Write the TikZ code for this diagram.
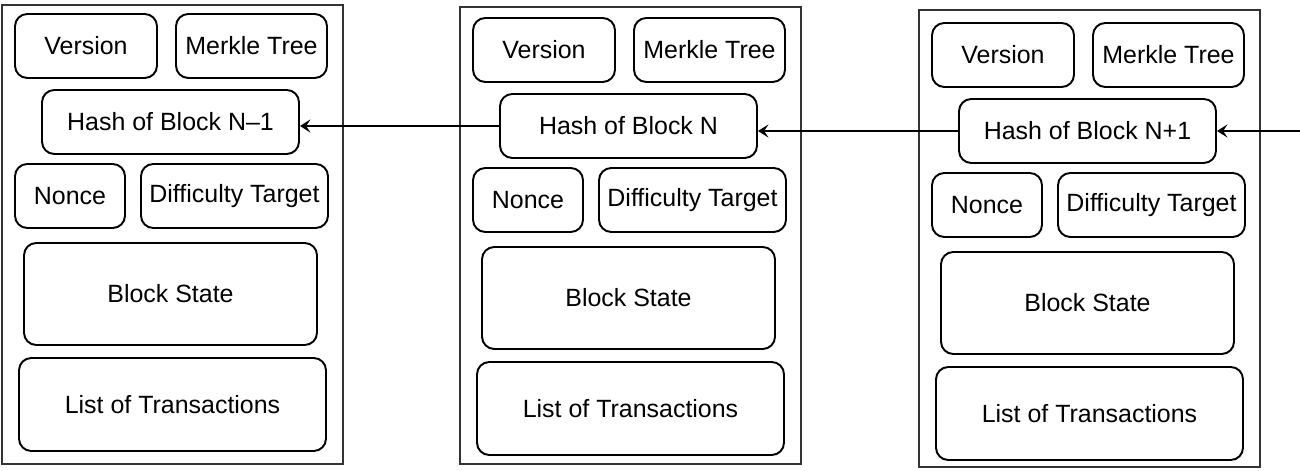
\documentclass[tikz,border=0pt]{standalone}
\usepackage{fontspec}
\setmainfont{Liberation Sans}
\usetikzlibrary{arrows.meta}

\begin{document}
\begin{tikzpicture}[
        font=\fontsize{14.2}{17}\selectfont,
        field/.style={draw, line width=1.1pt, rounded corners=7pt,
                      align=center, inner sep=0pt},
        frame/.style={draw=black!80, line width=0.8pt},
        link/.style={line width=1pt,
                     -{Stealth[length=6pt, width=7.5pt, inset=2.5pt]}}
    ]
\useasboundingbox (0,0) rectangle (26,-9.42);

% one block per step: index / x shift / y shift / frame top / frame bottom / label
\foreach \i/\dx/\dy/\top/\bot/\lab in {1/0/0/-0.10/-9.28/{N–1},
                                       2/9.16/-0.08/-0.14/-9.28/N,
                                       3/18.34/-0.18/-0.20/-9.34/{N+1}} {
    \draw[frame] (\dx+0.04, \top) rectangle (\dx+6.86, \bot);
    \begin{scope}[shift={(\dx,\dy)}]
        \node[field, minimum width=2.84cm, minimum height=1.28cm] (b\i-version) at (1.72,-0.92) {Version};
        \node[field, minimum width=3.02cm, minimum height=1.28cm] (b\i-merkle) at (5.03,-0.92) {Merkle Tree};
        \node[field, minimum width=5.14cm, minimum height=1.28cm] (b\i-hash) at (3.41,-2.44) {Hash of Block \lab};
        \node[field, minimum width=2.20cm, minimum height=1.28cm] (b\i-nonce) at (1.40,-3.92) {Nonce};
        \node[field, minimum width=3.74cm, minimum height=1.28cm] (b\i-target) at (4.69,-3.92) {Difficulty Target};
        \node[field, minimum width=5.86cm, minimum height=2.04cm] (b\i-state) at (3.41,-5.88) {Block State};
        \node[field, minimum width=6.14cm, minimum height=1.86cm] (b\i-tx) at (3.45,-8.09) {List of Transactions};
    \end{scope}
}

\coordinate (edge) at (26,0);

\draw[link] (b2-hash.west) -- (b2-hash.west -| b1-hash.east);
\draw[link] (b3-hash.west) -- (b3-hash.west -| b2-hash.east);
\draw[link] (b3-hash.west -| edge) -- (b3-hash.east);

\end{tikzpicture}
\end{document}
